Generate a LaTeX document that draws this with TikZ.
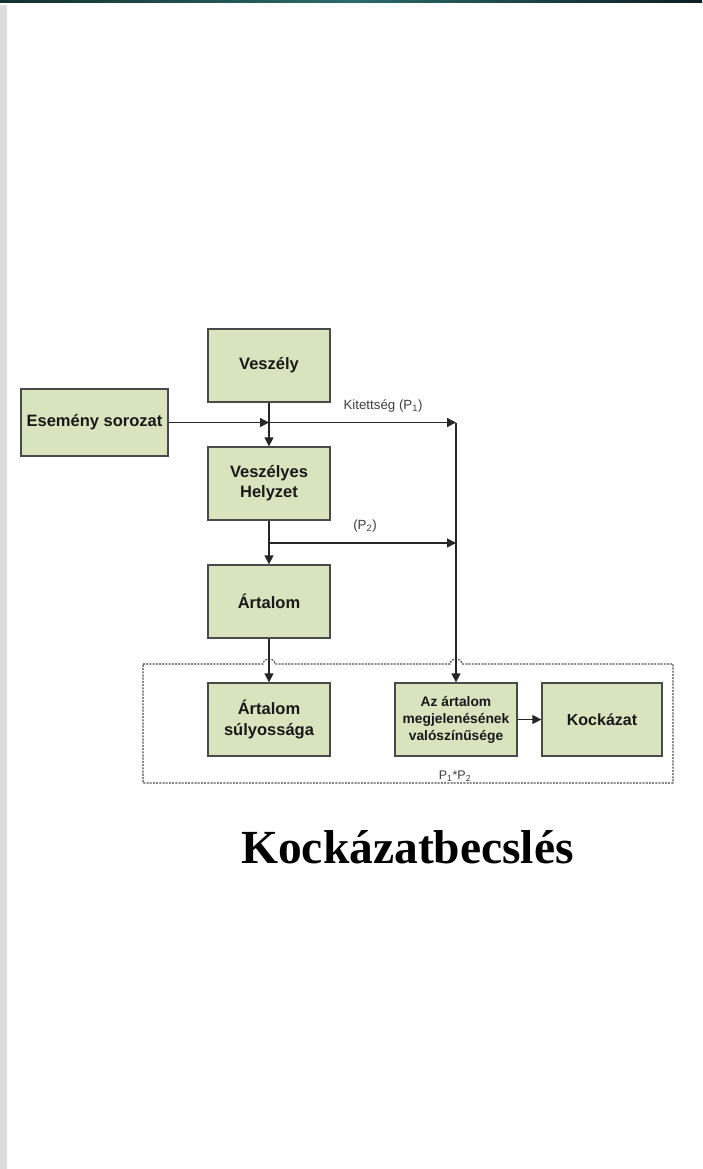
\documentclass[tikz,border=0pt]{standalone}
\usepackage{fontspec}
\setmainfont{Liberation Sans}
\newfontfamily\titlefont{Liberation Serif}
\usetikzlibrary{arrows.meta}
\definecolor{boxfill}{HTML}{D7E4BD}
\definecolor{boxline}{HTML}{4A4A4A}
\definecolor{strip}{HTML}{DCDBDE}
\definecolor{barA}{HTML}{13302F}
\definecolor{barB}{HTML}{2C6B6A}
\definecolor{barC}{HTML}{0E1E24}
\tikzset{
  blk/.style={draw=boxline, line width=1.3pt, fill=boxfill, inner sep=0pt,
    align=center, font=\fontsize{16.5}{20}\selectfont\bfseries, text=black!90,
    minimum width=122pt, minimum height=73pt},
  conn/.style={draw=black!85, line width=1.4pt, -{Triangle[length=9pt,width=9pt]}},
  lbl/.style={font=\fontsize{13.3}{15}\selectfont, text=black!75, inner sep=0pt},
  grp/.style={draw=black!70, line width=1.1pt, dash pattern=on 2pt off 1.2pt},
}
\begin{document}
\begin{tikzpicture}[x=1pt,y=-1pt]
\useasboundingbox (0,0) rectangle (702,1169);
\fill[white] (0,0) rectangle (702,1169);
% page decorations
\fill[strip] (0,5) rectangle (7,1169);
\shade[left color=barA, right color=barC, middle color=barB] (0,0) rectangle (702,2.5);

% process boxes
\node[blk] (vesz) at (269,365.5) {Veszély};
\node[blk, minimum width=147pt, minimum height=67pt] (es) at (94.5,422.5) {Esemény sorozat};
\node[blk] (vh) at (269,483.5) {Veszélyes\\Helyzet};
\node[blk] (art) at (269,601.5) {Ártalom};
\node[blk, font=\fontsize{16.5}{21}\selectfont\bfseries] (sul) at (269,719.5) {Ártalom\\súlyossága};
\node[blk, font=\fontsize{13.8}{17}\selectfont\bfseries] (val) at (456,719.5)
  {Az ártalom\\megjelenésének\\valószínűsége};
\node[blk, minimum width=120pt, font=\fontsize{16}{19}\selectfont\bfseries] (koc) at (602,719.5) {Kockázat};

% dashed grouping frame with hops over the incoming arrows
\draw[grp] (143,664) -- (263,664) .. controls (264,657) and (274,657) .. (275,664)
  -- (450,664) .. controls (451,657) and (461,657) .. (462,664)
  -- (673,664) -- (673,783) -- (143,783) -- cycle;

% junction points
\coordinate (j1) at (vesz.south |- es.east);
\coordinate (p1) at (val.north |- es.east);
\coordinate (j2) at (269,543);
\coordinate (p2) at (val.north |- j2);

% connectors
\draw[conn] (es.east) -- (j1);
\draw[conn] (j1) -- (p1);
\draw[conn] (vesz) -- (vh);
\draw[conn] (vh) -- (art);
\draw[conn] (j2) -- (p2);
\draw[conn] (p1) -- (val.north);
\draw[conn] (art) -- (sul);
\draw[conn] (val) -- (koc);

% labels
\node[lbl] (l1) at (383,406) {Kitettség (P\textsubscript{1})};
\node[lbl] (l2) at (365,526) {(P\textsubscript{2})};
\node[lbl, font=\fontsize{12.5}{14}\selectfont] (l3) at (455,776) {P\textsubscript{1}*P\textsubscript{2}};

% title
\node[font=\titlefont\bfseries\fontsize{47.5}{52}\selectfont, anchor=base, inner sep=0pt] (title)
  at (407.5,863) {Kockázatbecslés};
\end{tikzpicture}
\end{document}
